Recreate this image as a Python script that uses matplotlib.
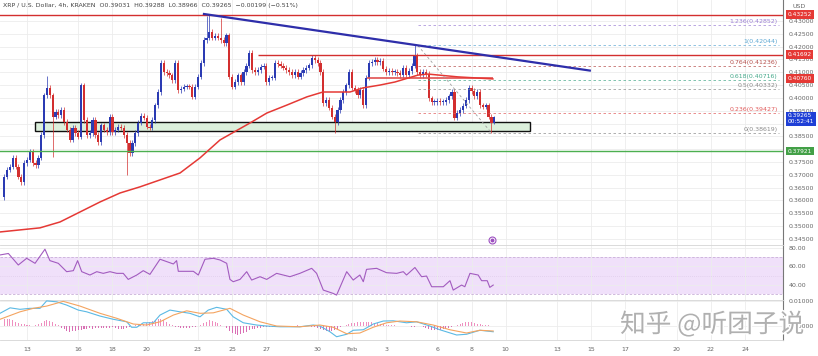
import numpy as np
import matplotlib.pyplot as plt
import matplotlib.patheffects as pe
from matplotlib.patches import Rectangle

# ------------------------------------------------------------
# data (XRP/USD, 4h, Kraken)
# x axis is in "day of January" (Feb n -> 31 + n)
# ------------------------------------------------------------
first_candle_day = 11 + 16 / 24
bar_hours = 4
first_open = 0.3614

closes = [
    0.3692, 0.3719, 0.3731, 0.3766, 0.3731, 0.3692, 0.3672, 0.3746, 0.3758, 0.3789,
    0.3746, 0.3738, 0.3766, 0.3855, 0.4011, 0.4039, 0.4011, 0.3926, 0.3945, 0.3933,
    0.3953, 0.3906, 0.3875, 0.3836, 0.3883, 0.3863, 0.3848, 0.4050, 0.3914, 0.3855,
    0.3863, 0.3914, 0.3855, 0.3828, 0.3894, 0.3875, 0.3867, 0.3926, 0.3867, 0.3875,
    0.3887, 0.3883, 0.3855, 0.3824, 0.3785,
    0.3824, 0.3863, 0.3904, 0.3930, 0.3922, 0.3887, 0.3883, 0.3914, 0.3972, 0.4023,
    0.4136, 0.4101, 0.4097, 0.4089, 0.4070, 0.4136, 0.4031, 0.4035, 0.4043, 0.4046,
    0.4043, 0.4004, 0.4043, 0.4082, 0.4136, 0.4226, 0.4234, 0.4257, 0.4234, 0.4242,
    0.4234, 0.4226, 0.4214, 0.4245, 0.4082, 0.4043, 0.4062, 0.4089, 0.4062, 0.4101,
    0.4125, 0.4175, 0.4109, 0.4101,
    0.4109, 0.4121, 0.4125, 0.4062, 0.4078, 0.4078, 0.4136, 0.4132, 0.4125, 0.4117,
    0.4109, 0.4101, 0.4089, 0.4101, 0.4082, 0.4097, 0.4109, 0.4117, 0.4128, 0.4156,
    0.4148, 0.4136, 0.4101, 0.3980, 0.3992, 0.3961, 0.3926, 0.3906, 0.3953, 0.3992,
    0.4023, 0.4050, 0.4101, 0.4039, 0.4031, 0.4011, 0.4031, 0.3972, 0.4078, 0.4136,
    0.4140, 0.4148, 0.4140, 0.4144,
    0.4113, 0.4101, 0.4105, 0.4101, 0.4101, 0.4097, 0.4089, 0.4117, 0.4089, 0.4105,
    0.4125, 0.4167, 0.4101, 0.4089, 0.4101, 0.4093, 0.3999, 0.3984, 0.3984, 0.3988,
    0.3984, 0.3984, 0.3992, 0.4007, 0.4023, 0.3922, 0.3941, 0.3953, 0.3969, 0.3992,
    0.4039, 0.4027, 0.4007, 0.4023, 0.3972, 0.3965, 0.3972, 0.3926, 0.39031, 0.39265,
]

# wick extremes that stand out; other candles get a short default wick
wick = 0.0010
high_marks = {15: 0.4086, 27: 0.4058, 71: 0.4318, 72: 0.4325, 76: 0.4312,
              144: 0.42044, 172: 0.39288}
low_marks = {0: 0.3602, 17: 0.3770, 43: 0.3700, 116: 0.3863,
             171: 0.38619, 172: 0.38966}

ma_days = [11.42, 13.76, 14.93, 16.10, 17.27, 18.44, 19.61, 20.78, 21.95, 23.12,
           24.29, 26.04, 27.03, 28.20, 29.37, 30.31, 31.89, 32.65, 33.64, 34.52,
           35.87, 36.45, 38.20, 40.25]
ma_vals = [0.3477, 0.3493, 0.3516, 0.3555, 0.3594, 0.3629, 0.3653, 0.3680, 0.3707, 0.3766,
           0.3836, 0.3902, 0.3941, 0.3972, 0.4004, 0.4023, 0.4023, 0.4039, 0.4050, 0.4062,
           0.4089, 0.4093, 0.4082, 0.4074]

resistance_top = 0.43252
resistance_mid = 0.41692
ma_level = 0.40760
support_line = 0.37921
support_zone = (0.3870, 0.3905)
zone_days = (13.47, 42.42)
mid_line_start = 26.51
ma_level_days = (32.88, 40.25)

trend_days = [23.35, 45.92]
trend_vals = [0.43273, 0.41066]

fib_ratios = ["1.236", "1", "0.764", "0.618", "0.5", "0.236", "0"]
fib_levels = [0.42852, 0.42044, 0.41236, 0.40716, 0.40332, 0.39427, 0.38619]
fib_colors = ["#9b7fd4", "#5fa8d3", "#b5504c", "#45a88a", "#8a8a8a", "#e05a5a", "#8a8a8a"]
fib_days = (35.86, 57.0)
fib_swing_days = [35.86, 40.19]
fib_swing_vals = [0.42044, 0.38619]

last_price = 0.39265
countdown = "00:52:41"

rsi_days = [11.42, 11.91, 12.49, 12.98, 13.47, 14.05, 14.34, 14.83, 15.32, 15.71,
            15.96, 16.20, 16.68, 17.08, 17.46, 17.85, 18.25, 18.63, 18.92, 19.42,
            19.80, 20.19, 20.78, 21.56, 21.75, 21.85, 22.73, 23.02, 23.41, 23.90,
            24.29, 24.68, 24.87, 25.06, 25.46, 25.85, 26.14, 26.63, 27.02, 27.60,
            28.38, 28.96, 29.65, 29.94, 30.33, 30.91, 31.11, 31.70, 32.08, 32.47,
            32.67, 32.86, 33.45, 34.03, 34.62, 35.01, 35.20, 35.69, 36.08, 36.37,
            36.67, 37.35, 37.74, 37.93, 38.42, 38.61, 38.91, 39.39, 39.59, 39.92,
            40.07, 40.27]
rsi_vals = [72.4, 74.0, 61.6, 68.8, 63.4, 78.6, 66.3, 63.4, 54.4, 55.5,
            66.3, 54.4, 50.8, 54.4, 52.6, 54.4, 52.6, 52.6, 46.1, 50.8,
            55.5, 51.5, 67.8, 62.7, 66.3, 54.8, 54.8, 50.8, 67.8, 68.8,
            67.0, 63.4, 46.1, 43.6, 46.1, 54.4, 45.4, 49.0, 46.1, 52.6,
            49.0, 52.6, 58.0, 52.6, 34.6, 31.0, 29.2, 54.4, 45.4, 50.8,
            43.6, 56.9, 58.0, 53.3, 52.6, 54.4, 50.8, 58.9, 49.0, 49.7,
            38.2, 38.2, 44.7, 34.6, 40.0, 38.2, 52.6, 50.8, 44.7, 44.7,
            37.5, 40.0]

macd_days = [11.42, 12.01, 12.59, 13.18, 13.76, 14.15, 14.74, 15.32, 16.00, 16.49,
             17.27, 18.05, 18.83, 19.12, 19.42, 19.80, 20.39, 20.78, 21.36, 21.95,
             22.53, 23.12, 23.60, 24.09, 24.68, 25.06, 25.65, 26.43, 27.02, 27.80,
             28.96, 29.74, 30.13, 30.72, 31.11, 31.70, 32.08, 32.67, 33.25, 33.84,
             34.42, 35.20, 35.79, 36.57, 37.15, 38.13, 38.71, 39.49, 40.27]
macd_vals = [0.0051, 0.0073, 0.0067, 0.0071, 0.0071, 0.0101, 0.0097, 0.0084, 0.0064, 0.0057,
             0.0040, 0.0027, 0.0017, -0.0005, -0.0005, 0.0013, 0.0013, 0.0044, 0.0064, 0.0057,
             0.0051, 0.0037, 0.0064, 0.0075, 0.0067, 0.0037, 0.0013, 0.0004, 0.0000, -0.0003,
             -0.0003, 0.0004, 0.0000, -0.0023, -0.0043, -0.0033, -0.0017, -0.0015, 0.0008, 0.0020,
             0.0021, 0.0013, 0.0017, 0.0000, -0.0015, -0.0036, -0.0033, -0.0017, -0.0023]

signal_days = [11.42, 12.59, 13.37, 14.15, 15.12, 16.10, 17.27, 18.25, 19.22, 20.00,
               20.78, 21.56, 22.34, 23.12, 23.90, 24.87, 25.65, 26.63, 27.60, 28.96,
               30.13, 30.91, 31.70, 32.47, 33.25, 34.03, 34.81, 35.79, 36.76, 37.74,
               38.71, 39.49, 40.27]
signal_vals = [0.0027, 0.0057, 0.0071, 0.0080, 0.0099, 0.0080, 0.0051, 0.0031, 0.0008, 0.0004,
               0.0017, 0.0044, 0.0061, 0.0051, 0.0053, 0.0071, 0.0044, 0.0017, 0.0000, -0.0003,
               0.0004, -0.0005, -0.0031, -0.0028, -0.0005, 0.0013, 0.0020, 0.0017, 0.0004, -0.0015,
               -0.0028, -0.0017, -0.0020]

hist_vals = [
    0.0028, 0.0030, 0.0028, 0.0024,
    0.0018, 0.0014, 0.0010, 0.0008, 0.0006, 0.0004, 0.0002,
    0.0003, 0.0008, 0.0014,
    0.0020, 0.0024, 0.0022, 0.0016, 0.0010, 0.0004,
    -0.0006, -0.0012, -0.0018, -0.0022, -0.0020, -0.0018, -0.0016, -0.0014, -0.0012, -0.0010,
    -0.0008, -0.0010, -0.0009, -0.0008,
    -0.0008, -0.0007, -0.0006, -0.0006, -0.0005, -0.0006, -0.0010, -0.0012, -0.0010, -0.0006, -0.0002,
    0.0002, 0.0004, 0.0006, 0.0008, 0.0010, 0.0012, 0.0016, 0.0020, 0.0024, 0.0028,
    0.0030, 0.0026, 0.0018, 0.0010, 0.0004,
    -0.0002, -0.0004, -0.0006, -0.0008, -0.0008, -0.0006, -0.0004, -0.0002, 0.0002, 0.0006,
    0.0012, 0.0018, 0.0024, 0.0022, 0.0018, 0.0012, 0.0006, 0.0000, -0.0008,
    -0.0018, -0.0026, -0.0032, -0.0036, -0.0034, -0.0028, -0.0022, -0.0016, -0.0012,
    -0.0010, -0.0008, -0.0006, -0.0005, -0.0004, -0.0003, -0.0002, -0.0002, -0.0001, 0.0000, 0.0000, 0.0001,
    0.0001, 0.0002, 0.0002, 0.0003, 0.0002, 0.0001, 0.0000, 0.0000, -0.0002, -0.0004, -0.0008,
    -0.0012, -0.0016, -0.0020, -0.0022, -0.0020, -0.0016, -0.0010, -0.0004, 0.0002, 0.0006,
    0.0010, 0.0012, 0.0014, 0.0015, 0.0016, 0.0018, 0.0018, 0.0017, 0.0016, 0.0014,
    0.0012, 0.0010, 0.0008, 0.0006, 0.0005, 0.0004,
    0.0003, 0.0002, 0.0001, 0.0001, 0.0000, -0.0001, -0.0002, -0.0002, -0.0001, 0.0000,
    -0.0004, -0.0008, -0.0012, -0.0014, -0.0016, -0.0016, -0.0014, -0.0012, -0.0010, -0.0006, -0.0002,
    0.0002, 0.0006, 0.0010, 0.0013, 0.0015, 0.0016, 0.0015, 0.0013, 0.0010, 0.0008,
    0.0005, 0.0004, 0.0003, 0.0002, 0.0001,
]

date_ticks = [13, 16, 18, 20, 23, 25, 27, 30, 32, 34, 37, 39, 41, 44, 46, 48, 51, 53, 55]
date_labels = ["13", "16", "18", "20", "23", "25", "27", "30", "Feb", "3", "6", "8", "10",
               "13", "15", "17", "20", "22", "24"]
# 0.380 and 0.390 sit behind the coloured axis boxes in the original
price_ticks = [0.345, 0.350, 0.355, 0.360, 0.365, 0.370, 0.375, 0.385, 0.395,
               0.400, 0.405, 0.410, 0.415, 0.420, 0.425, 0.430]
grid_ticks = np.round(np.arange(0.345, 0.4301, 0.005), 3)

header = ("XRP / U.S. Dollar, 4h, KRAKEN  O0.39031  H0.39288  L0.38966  "
          "C0.39265  \u22120.00199 (\u22120.51%)")
event_day, event_price = 40.19, 0.3446
watermark = "知乎 @听团子说"

# ------------------------------------------------------------
# figure
# ------------------------------------------------------------
UP = "#2b3bb3"
DOWN = "#d32f2f"
GRID = "#ececec"
TXT = "#666666"
FS = 4.5
xlim = (11.42, 57.21)

fig = plt.figure(figsize=(8.18, 3.56), dpi=100)
ax_p = fig.add_axes([0, 0.312, 0.957, 0.688])
ax_r = fig.add_axes([0, 0.157, 0.957, 0.155])
ax_m = fig.add_axes([0, 0.045, 0.957, 0.112])

for ax in (ax_p, ax_r, ax_m):
    ax.set_xlim(*xlim)
    ax.set_xticks(date_ticks)
    ax.grid(True, color=GRID, lw=0.6)
    ax.set_axisbelow(True)
    ax.yaxis.tick_right()
    ax.tick_params(axis="y", length=0, labelsize=FS, colors=TXT, pad=4)
    ax.tick_params(axis="x", length=0)
    for side in ("left", "top", "bottom"):
        ax.spines[side].set_visible(False)
    ax.spines["right"].set_color("#777777")
    ax.spines["right"].set_linewidth(0.8)
    ax.spines["top"].set_visible(True)
    ax.spines["top"].set_color("#d5d5d5")
    ax.spines["top"].set_linewidth(0.6)
ax_p.spines["top"].set_visible(False)
ax_p.set_xticklabels([])
ax_r.set_xticklabels([])
ax_m.set_xticklabels(date_labels, fontsize=FS, color=TXT)
ax_m.tick_params(axis="x", pad=5)
ax_m.spines["bottom"].set_visible(True)
ax_m.spines["bottom"].set_color("#d5d5d5")
ax_m.spines["bottom"].set_linewidth(0.6)

# ---------------- price pane ----------------
n = len(closes)
days = first_candle_day + np.arange(n) * bar_hours / 24
opens = np.array([first_open] + closes[:-1])
closes_a = np.array(closes)
highs = np.maximum(opens, closes_a) + wick
lows = np.minimum(opens, closes_a) - wick
for i, v in high_marks.items():
    highs[i] = v
for i, v in low_marks.items():
    lows[i] = v
colors = np.where(closes_a >= opens, UP, DOWN)

ax_p.vlines(days, lows, highs, colors=colors, lw=0.5, zorder=3)
body_low = np.minimum(opens, closes_a)
body_h = np.maximum(np.abs(closes_a - opens), 0.00025)
ax_p.bar(days, body_h, bottom=body_low, width=0.13, color=colors, lw=0, zorder=4)

ax_p.set_ylim(0.34264, 0.43819)
ax_p.set_yticks(price_ticks)
ax_p.set_yticklabels([f"{t:.5f}" for t in price_ticks])
ax_p.grid(False, axis="y")
for t in grid_ticks:
    ax_p.axhline(t, color=GRID, lw=0.6, zorder=0)

# support zone
ax_p.add_patch(Rectangle((zone_days[0], support_zone[0]), zone_days[1] - zone_days[0],
                         support_zone[1] - support_zone[0], facecolor="#dcf0dc",
                         edgecolor="#111111", lw=1.0, zorder=2))

# horizontal lines
ax_p.axhline(resistance_top, color="#d32f2f", lw=1.0, zorder=5)
ax_p.hlines(resistance_mid, mid_line_start, xlim[1], color="#d32f2f", lw=1.0, zorder=5)
ax_p.hlines(ma_level, *ma_level_days, color="#e05050", lw=1.2, zorder=5)
ax_p.axhline(support_line, color="#4caf50", lw=1.0, zorder=5)

# moving average + trend line
ax_p.plot(ma_days, ma_vals, color="#e53935", lw=1.1, zorder=5)
ax_p.plot(trend_days, trend_vals, color="#2e2eaa", lw=1.6, zorder=6)

# fibonacci
ax_p.plot(fib_swing_days, fib_swing_vals, color="#9e9e9e", lw=0.6, ls=(0, (3, 3)), zorder=5)
for r, lvl, c in zip(fib_ratios, fib_levels, fib_colors):
    ax_p.hlines(lvl, *fib_days, color=c, lw=0.6, ls=(0, (3, 3)), alpha=0.8, zorder=5)
    ax_p.text(fib_days[1] - 0.1, lvl + 0.0004, f"{r}({lvl:.5f})", color=c,
              fontsize=FS, ha="right", va="bottom", zorder=6)

# event marker
ax_p.plot(event_day, event_price, marker="o", ms=5, mfc="white", mec="#9c4fc0", mew=0.8)
ax_p.plot(event_day, event_price, marker="o", ms=1.8, color="#9c4fc0")

ax_p.text(0.004, 0.987, header, transform=ax_p.transAxes, fontsize=FS, color="#444444",
          ha="left", va="top")
ax_p.text(1.012, 0.985, "USD", transform=ax_p.transAxes, fontsize=FS, color=TXT,
          ha="left", va="top", clip_on=False)

# boxed price labels on the axis
ytr = ax_p.get_yaxis_transform()
boxes = [(resistance_top, f"{resistance_top:.5f}", "#e53935"),
         (resistance_mid, f"{resistance_mid:.5f}", "#e53935"),
         (ma_level, f"{ma_level:.5f}", "#e53935"),
         (support_line, f"{support_line:.5f}", "#43a047")]
for y, s, c in boxes:
    ax_p.text(1.006, y, s, transform=ytr, fontsize=4.2, color="white", ha="left",
              va="center", clip_on=False, zorder=10,
              bbox=dict(boxstyle="square,pad=0.3", fc=c, ec="none"))
ax_p.text(1.006, last_price + 0.0013, f"{last_price:.5f}\n{countdown}", transform=ytr,
          fontsize=4.2, color="white", ha="left", va="top", linespacing=1.15,
          clip_on=False, zorder=10,
          bbox=dict(boxstyle="square,pad=0.3", fc="#1f3fd6", ec="none"))

# ---------------- RSI pane ----------------
ax_r.set_ylim(23.8, 83.2)
ax_r.set_yticks([40, 60, 80])
ax_r.set_yticklabels(["40.00", "60.00", "80.00"])
ax_r.axhspan(30, 70, color="#f0e0fa", lw=0, zorder=0)
for lv in (30, 70):
    ax_r.axhline(lv, color="#c9b0d8", lw=0.6, ls=(0, (3, 2)))
ax_r.axhline(50, color="#d9c6e4", lw=0.5, ls=(0, (1, 2)))
ax_r.plot(rsi_days, rsi_vals, color="#a25bbf", lw=0.8, zorder=4)

# ---------------- MACD pane ----------------
ax_m.set_ylim(-0.0056, 0.0104)
ax_m.set_yticks([0.0, 0.01])
ax_m.set_yticklabels(["0.00000", "0.01000"])
hist = np.array(hist_vals)
hcol = np.where(hist >= 0, "#ee8fbf", "#d96fb4")
ax_m.bar(days, hist, width=0.06, color=hcol, lw=0, zorder=3)
ax_m.plot(macd_days, macd_vals, color="#5bb9e4", lw=0.8, zorder=4)
ax_m.plot(signal_days, signal_vals, color="#f4a460", lw=0.8, zorder=4)

# watermark
fig.text(0.758, 0.088, watermark, fontsize=18.5, color="#b0b0b0",
         family=["Noto Sans CJK SC", "DejaVu Sans"], ha="left", va="center",
         path_effects=[pe.withStroke(linewidth=2, foreground="white")], zorder=20)

fig.savefig("out.png", dpi=100)
